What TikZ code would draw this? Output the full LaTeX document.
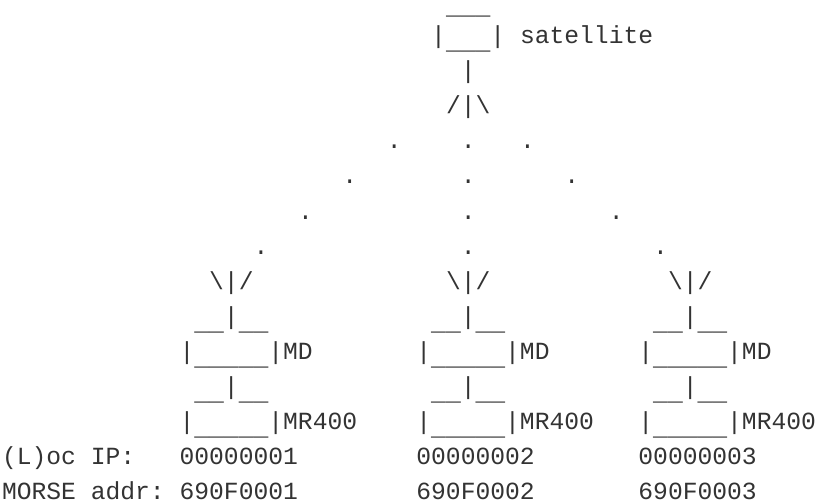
\documentclass[tikz,border=0pt]{standalone}
\usepackage{fontspec}
\newfontfamily\asciifont{Liberation Mono}
% underscore set a little lower, as a typewriter underline sits
\newcommand\lowbar{\raisebox{-6pt}{\_}}
\begin{document}
\begin{tikzpicture}[
    ascii/.style={font=\asciifont\fontsize{24.66}{35}\selectfont,
                  text=black!80, anchor=base west, inner sep=0pt, outer sep=0pt}]
  \useasboundingbox (0,0) rectangle (816pt,-501pt);
  % character grid: one unit = one column / one text line
  \begin{scope}[shift={(2pt,-8.7pt)}, x=14.8pt, y=-35.05pt]
    % satellite
    \node[ascii] (satTop)   at (30,0)  {\lowbar\lowbar\lowbar};
    \node[ascii] (satBox)   at (29,1)  {|\lowbar\lowbar\lowbar|};
    \node[ascii] (satLabel) at (35,1)  {satellite};
    \node[ascii] (mast)     at (31,2)  {|};
    \node[ascii] (fork)     at (30,3)  {/|\textbackslash};
    % radio links, fanning out
    \node[ascii] (dL1) at (26,4) {.};
    \node[ascii] (dC1) at (31,4) {.};
    \node[ascii] (dR1) at (35,4) {.};
    \node[ascii] (dL2) at (23,5) {.};
    \node[ascii] (dC2) at (31,5) {.};
    \node[ascii] (dR2) at (38,5) {.};
    \node[ascii] (dL3) at (20,6) {.};
    \node[ascii] (dC3) at (31,6) {.};
    \node[ascii] (dR3) at (41,6) {.};
    \node[ascii] (dL4) at (17,7) {.};
    \node[ascii] (dC4) at (31,7) {.};
    \node[ascii] (dR4) at (44,7) {.};
    % three ground stations
    \foreach \n/\c in {A/14, B/30, C/45} {
      \node[ascii] (ant\n)  at (\c,8)    {\textbackslash|/};
      \node[ascii] (mdT\n)  at (\c-1,9)  {\lowbar\lowbar|\lowbar\lowbar};
      \node[ascii] (md\n)   at (\c-2,10) {|\lowbar\lowbar\lowbar\lowbar\lowbar|MD};
      \node[ascii] (mrT\n)  at (\c-1,11) {\lowbar\lowbar|\lowbar\lowbar};
      \node[ascii] (mr\n)   at (\c-2,12) {|\lowbar\lowbar\lowbar\lowbar\lowbar|MR400};
    }
    % addresses
    \node[ascii] (ipLabel)    at (0,13)  {(L)oc IP:};
    \node[ascii] (ipA)        at (12,13) {00000001};
    \node[ascii] (ipB)        at (28,13) {00000002};
    \node[ascii] (ipC)        at (43,13) {00000003};
    \node[ascii] (morseLabel) at (0,14)  {MORSE addr:};
    \node[ascii] (morseA)     at (12,14) {690F0001};
    \node[ascii] (morseB)     at (28,14) {690F0002};
    \node[ascii] (morseC)     at (43,14) {690F0003};
  \end{scope}
\end{tikzpicture}
\end{document}
